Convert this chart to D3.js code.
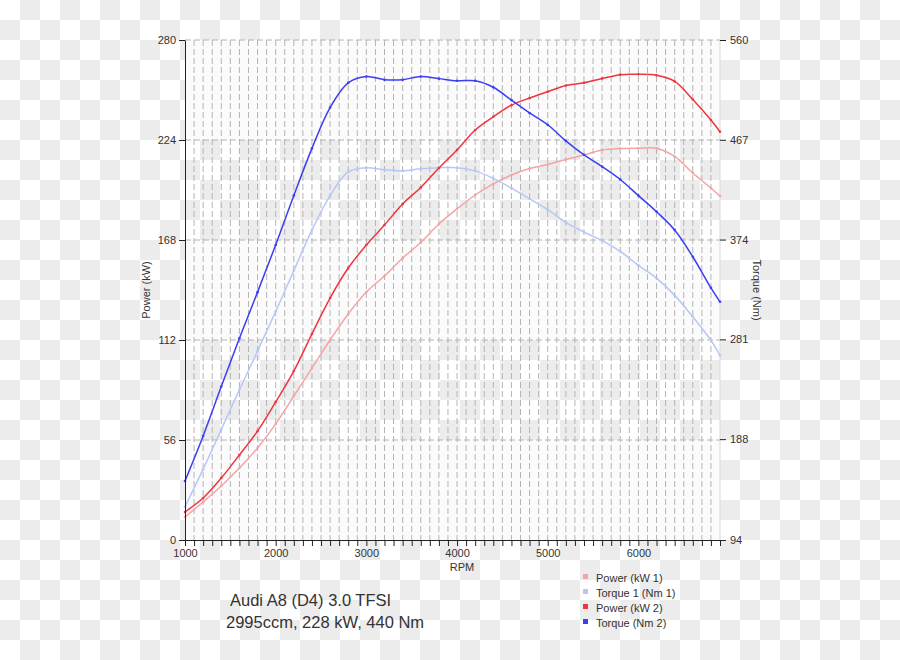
<!DOCTYPE html>
<html>
<head>
<meta charset="utf-8">
<script src="https://cdn.jsdelivr.net/npm/d3@7"></script>
<style>
	body { margin: 0; background: #fff; }
	svg text { font-family: "Liberation Sans", Arial, sans-serif; fill: #333; }
</style>
</head>
<body>
<svg id="chart"></svg>
<script>
(function(){

	//Data
	var rpm = [1000, 1200, 1400, 1600, 1800, 2000, 2200, 2400, 2600, 2800, 3000, 3200, 3400, 3600, 3800,
		4000, 4200, 4400, 4600, 4800, 5000, 5200, 5400, 5600, 5800, 6000, 6200, 6400, 6600, 6800, 6900];
	var power1 = [12.9, 21.3, 30.2, 40.3, 51.5, 65.0, 80.6, 96.3, 112.0, 126.6, 138.9, 147.8, 157.9, 166.6, 177.0,
		185.4, 193.2, 199.4, 204.4, 208.0, 210.3, 213.1, 215.6, 218.4, 219.2, 219.4, 219.4, 214.8, 205.5, 197.1, 192.6];
	var torque1 = [125, 160, 197, 234, 270, 307, 345, 383, 415, 437, 441, 439, 438, 440, 441,
		441, 438, 431, 422, 412, 402, 390, 381, 373, 363, 350, 338, 322, 302, 280, 266];
	var power2 = [15.7, 23.5, 34.7, 47.6, 61.0, 77.3, 94.6, 115.4, 135.5, 152.3, 165.2, 176.4, 188.2, 197.4, 208.3,
		218.4, 229.6, 237.0, 243.5, 247.5, 251.0, 254.5, 256.0, 258.4, 260.6, 260.8, 260.2, 256.8, 246.7, 235.2, 228.6];
	var torque2 = [149, 191, 237, 282, 325, 369, 415, 459, 497, 520, 526, 523, 523, 526, 524,
		522, 522, 516, 504, 492, 481, 466, 453, 442, 430, 415, 400, 383, 358, 329, 316];

	var powerTicks = [0, 56, 112, 168, 224, 280];
	var torqueTicks = [94, 188, 281, 374, 467, 560];
	var rpmLabels = [1000, 2000, 3000, 4000, 5000, 6000];
	var seriesNames = ["Power (kW 1)", "Torque 1 (Nm 1)", "Power (kW 2)", "Torque (Nm 2)"];
	var seriesColors = ["#f4a4a4", "#b6c7f7", "#f0343f", "#3a3ff0"];
	var titleLines = ["Audi A8 (D4) 3.0 TFSI", "2995ccm, 228 kW, 440 Nm"];

	//SVG Configurations
	var svgWidth = 900;
	var svgHeight = 660;
	var plot = {left: 185, right: 720, top: 40, bottom: 540};
	var checker = 20;

	var svg = d3.select("#chart")
		.attr("width", svgWidth)
		.attr("height", svgHeight);

	var x = d3.scaleLinear().domain([1000, 6900]).range([plot.left, plot.right]);
	var yPower = d3.scaleLinear().domain([0, 280]).range([plot.bottom, plot.top]);
	var yTorque = d3.scaleLinear().domain([94, 560]).range([plot.bottom, plot.top]);

	drawBackground();
	drawGrid();
	drawSeries();
	drawAxes();
	drawLegend();
	drawTitle();

	//checkered backdrop, with the plot partly washed out
	function drawBackground(){
		var cells = [];
		for(var r = 0; r < svgHeight / checker; r++){
			for(var c = 0; c < svgWidth / checker; c++){
				if((r + c) % 2 == 1) cells.push({r: r, c: c});
			}
		}
		svg.append("g").selectAll("rect")
		.data(cells)
		.enter()
		.append("rect")
		.attr("x", function(d){ return d.c * checker; })
		.attr("y", function(d){ return d.r * checker; })
		.attr("width", checker)
		.attr("height", checker)
		.attr("fill", "#ececec");

		var bands = [[40, 140], [240, 340], [440, 540]];
		svg.append("g").selectAll("rect")
		.data(bands)
		.enter()
		.append("rect")
		.attr("x", plot.left)
		.attr("y", function(d){ return d[0]; })
		.attr("width", plot.right - plot.left)
		.attr("height", function(d){ return d[1] - d[0]; })
		.attr("fill", "#fbfbfb");

		svg.append("line")
		.attr("x1", plot.right).attr("x2", plot.right)
		.attr("y1", plot.top).attr("y2", plot.bottom)
		.attr("stroke", "#d8d8d8");
	}

	function drawGrid(){
		var g = svg.append("g");
		g.selectAll(".vgrid")
		.data(d3.range(1100, 6900, 100))
		.enter()
		.append("line")
		.attr("x1", function(d){ return x(d); })
		.attr("x2", function(d){ return x(d); })
		.attr("y1", plot.top)
		.attr("y2", plot.bottom)
		.attr("stroke", "#b4b4b4")
		.attr("stroke-dasharray", "6,3");

		g.selectAll(".hgrid")
		.data(powerTicks.slice(1))
		.enter()
		.append("line")
		.attr("x1", plot.left)
		.attr("x2", plot.right)
		.attr("y1", function(d){ return yPower(d); })
		.attr("y2", function(d){ return yPower(d); })
		.attr("stroke", "#b4b4b4")
		.attr("stroke-dasharray", "6,3");
	}

	function drawSeries(){
		var all = [
			{vals: power1, y: yPower},
			{vals: torque1, y: yTorque},
			{vals: power2, y: yPower},
			{vals: torque2, y: yTorque}
		];
		all.forEach(function(s, i){
			var pts = rpm.map(function(r, k){ return [x(r), s.y(s.vals[k])]; });
			var line = d3.line().curve(d3.curveCatmullRom.alpha(0.5));
			svg.append("path")
			.attr("d", line(pts))
			.attr("fill", "none")
			.attr("stroke", seriesColors[i])
			.attr("stroke-width", 1.5);
			svg.append("g").selectAll("circle")
			.data(pts)
			.enter()
			.append("circle")
			.attr("cx", function(d){ return d[0]; })
			.attr("cy", function(d){ return d[1]; })
			.attr("r", 1.3)
			.attr("fill", seriesColors[i]);
		});
	}

	function drawAxes(){
		var left = svg.append("g")
		.attr("transform", "translate(" + plot.left + ",0)")
		.call(d3.axisLeft(yPower).tickValues(powerTicks).tickSize(6).tickSizeOuter(0).tickPadding(3));
		var right = svg.append("g")
		.attr("transform", "translate(" + plot.right + ",0)")
		.call(d3.axisRight(yTorque).tickValues(torqueTicks).tickSize(6).tickSizeOuter(0).tickPadding(4));
		var bottom = svg.append("g")
		.attr("transform", "translate(0," + plot.bottom + ")")
		.call(d3.axisBottom(x).tickValues(d3.range(1000, 6901, 100)).tickSize(6).tickSizeOuter(0).tickPadding(3)
			.tickFormat(function(d){ return rpmLabels.indexOf(d) >= 0 ? d : ""; }));

		[left, right, bottom].forEach(function(a){
			a.selectAll("path, line").attr("stroke", "#222");
			a.selectAll("text").attr("font-size", 11).attr("fill", "#333")
			.style("font-family", "'Liberation Sans', Arial, sans-serif");
		});
		right.select("path").attr("stroke", "none");

		svg.append("text")
		.attr("x", x(4000) + 5)
		.attr("y", 571)
		.attr("text-anchor", "middle")
		.attr("font-size", 11)
		.text("RPM");

		svg.append("text")
		.attr("transform", "translate(150,290) rotate(-90)")
		.attr("text-anchor", "middle")
		.attr("font-size", 11)
		.text("Power (kW)");

		svg.append("text")
		.attr("transform", "translate(753,290) rotate(90)")
		.attr("text-anchor", "middle")
		.attr("font-size", 11)
		.text("Torque (Nm)");
	}

	function drawLegend(){
		var g = svg.append("g").attr("transform", "translate(583,578)");
		var rows = g.selectAll("g")
		.data(seriesNames)
		.enter()
		.append("g")
		.attr("transform", function(d, i){ return "translate(0," + (i * 15) + ")"; });
		rows.append("rect")
		.attr("x", 0).attr("y", -4)
		.attr("width", 5).attr("height", 5)
		.attr("fill", function(d, i){ return seriesColors[i]; });
		rows.append("text")
		.attr("x", 13).attr("y", 4)
		.attr("font-size", 11)
		.text(function(d){ return d; });
	}

	function drawTitle(){
		svg.selectAll(".title")
		.data(titleLines)
		.enter()
		.append("text")
		.attr("x", function(d, i){ return i == 0 ? 230 : 226; })
		.attr("y", function(d, i){ return 606 + i * 22; })
		.attr("font-size", 16.5)
		.attr("fill", "#333")
		.text(function(d){ return d; });
	}

})();
</script>
</body>
</html>
